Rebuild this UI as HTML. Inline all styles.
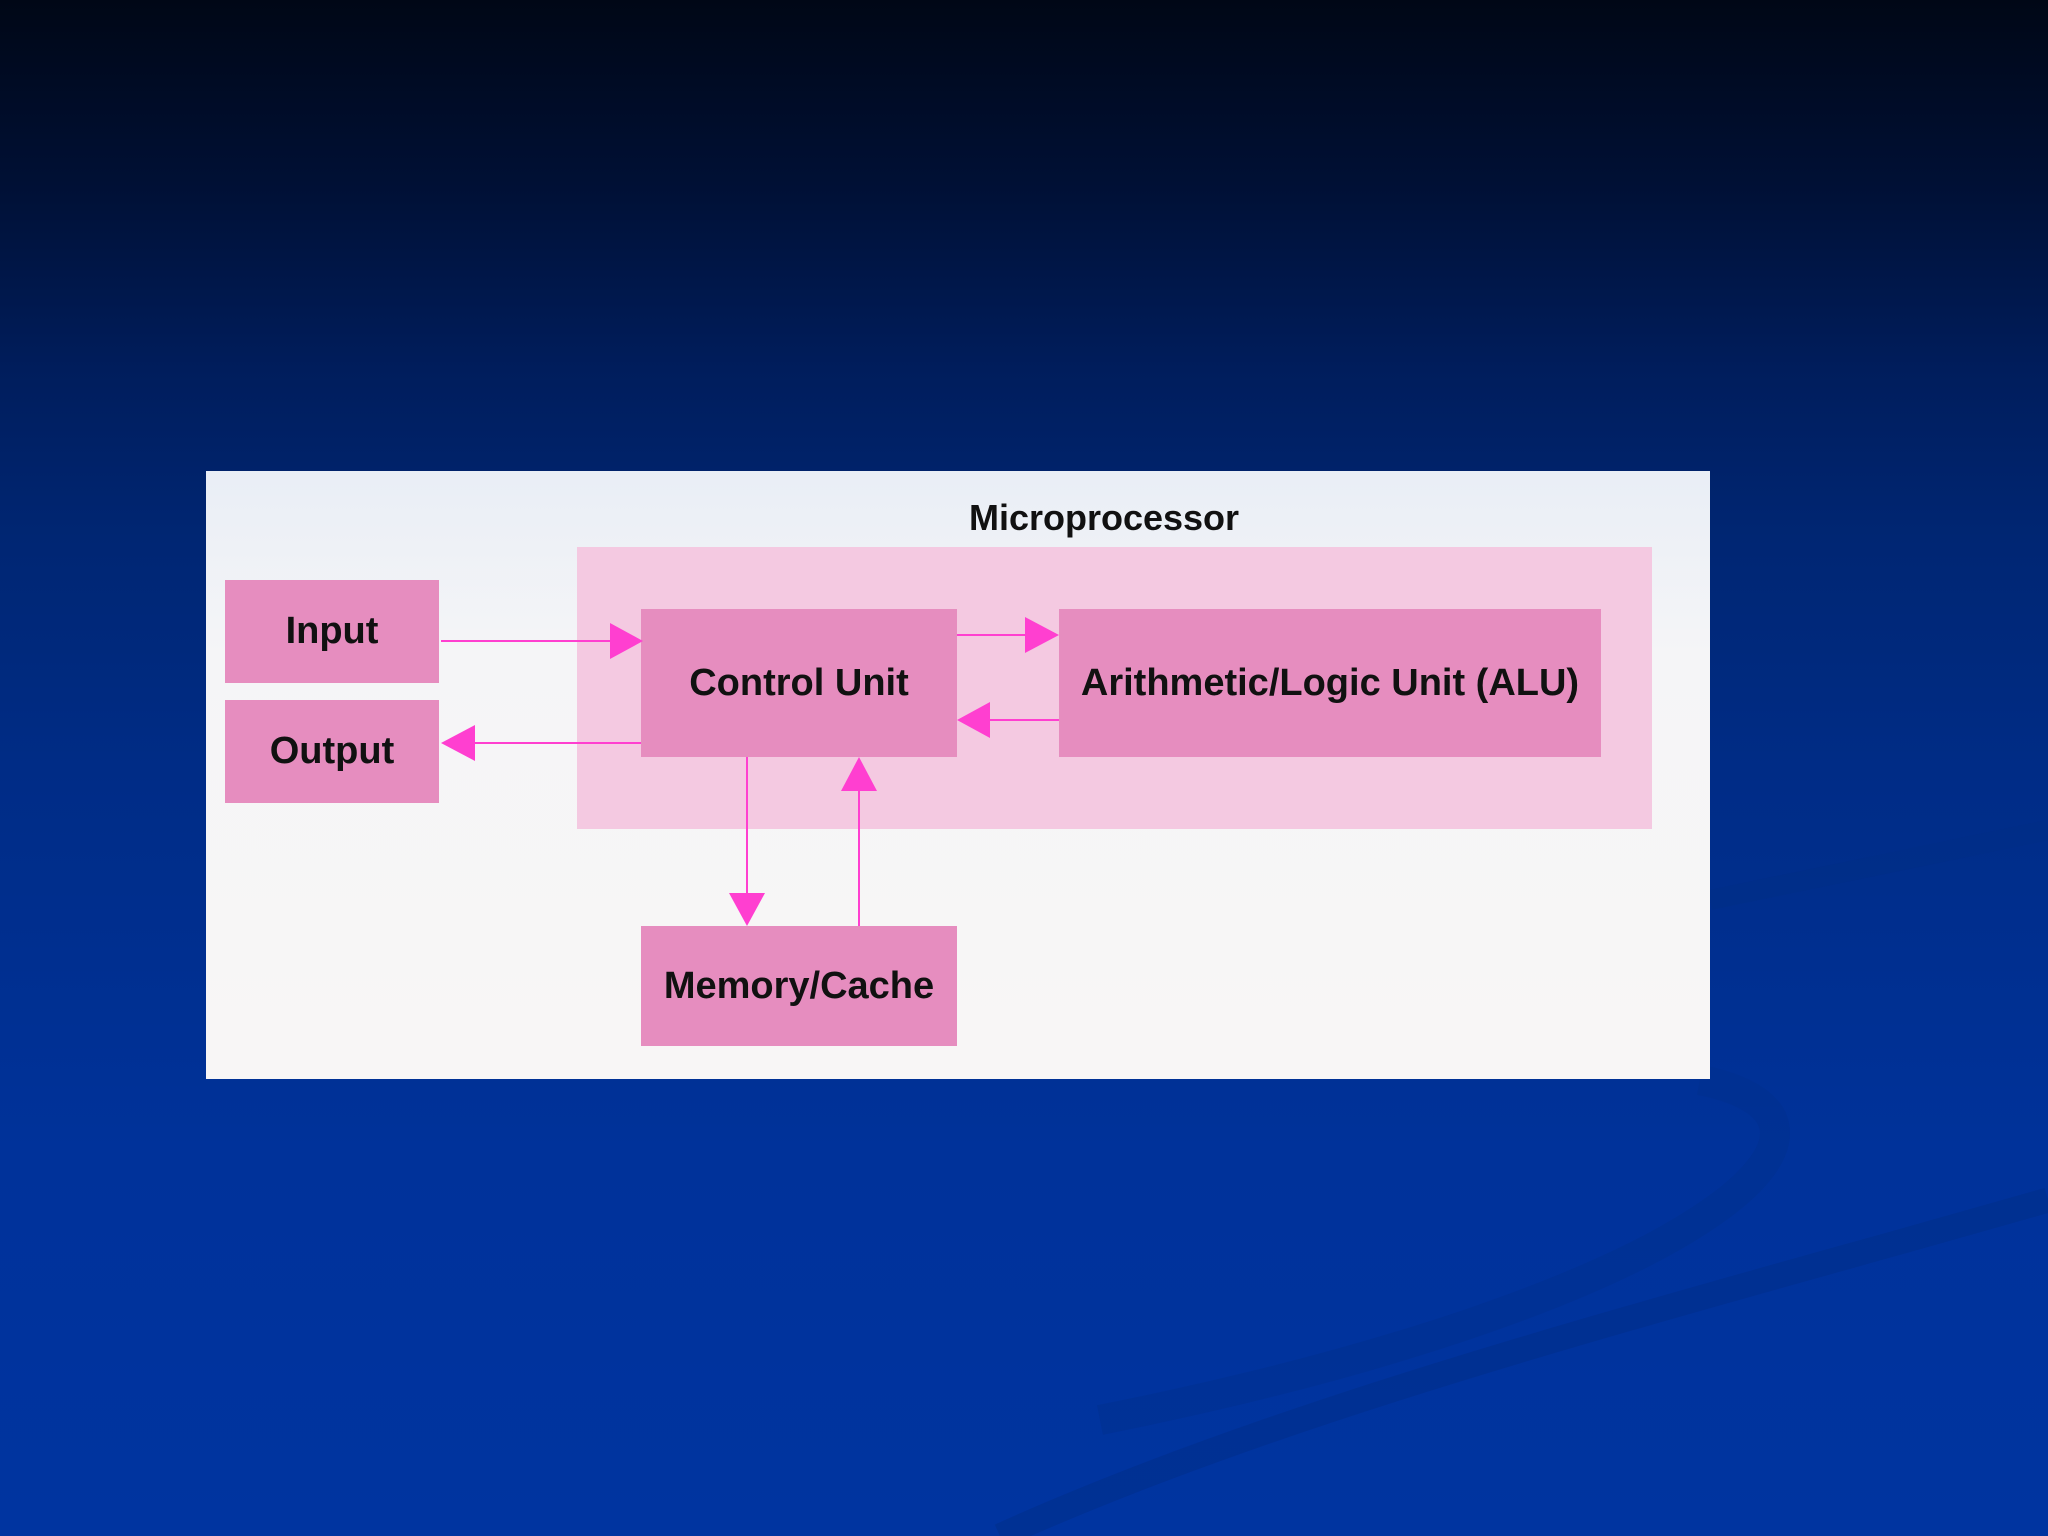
<!DOCTYPE html>
<html><head><meta charset="utf-8"><style>
html,body{margin:0;padding:0;}
body{width:2048px;height:1536px;position:relative;overflow:hidden;
background:linear-gradient(180deg,#000716 0%,#001035 12%,#001d5c 24%,#002673 35%,#002c86 50%,#00329a 75%,#0034a0 100%);
font-family:"Liberation Sans",sans-serif;}
.b{position:absolute;background:#e68dbf;display:flex;align-items:center;justify-content:center;font-weight:bold;font-size:38px;color:#111;}
</style></head><body>
<svg width="2048" height="1536" style="position:absolute;left:0;top:0">
<path d="M1700 1080 C1900 1120 1700 1300 1100 1420" stroke="#00308e" stroke-width="30" fill="none" opacity="0.5"/>
<path d="M2048 1200 C1700 1300 1300 1400 1000 1536" stroke="#002e88" stroke-width="25" fill="none" opacity="0.5"/>
<path d="M1710 900 C1900 860 2000 840 2048 830" stroke="#002d86" stroke-width="20" fill="none" opacity="0.5"/>
</svg>
<div style="position:absolute;left:206px;top:471px;width:1504px;height:608px;background:linear-gradient(180deg,#e9eef6 0%,#f5f5f7 30%,#f8f6f6 100%)"></div>
<div style="position:absolute;left:577px;top:547px;width:1075px;height:282px;background:#f4c9e1"></div>
<div style="position:absolute;left:900px;top:497px;width:408px;text-align:center;font-weight:bold;font-size:36px;color:#111">Microprocessor</div>
<div class="b" style="left:225px;top:580px;width:214px;height:103px">Input</div>
<div class="b" style="left:225px;top:700px;width:214px;height:103px">Output</div>
<div class="b" style="left:641px;top:609px;width:316px;height:148px">Control Unit</div>
<div class="b" style="left:1059px;top:609px;width:542px;height:148px">Arithmetic/Logic Unit (ALU)</div>
<div class="b" style="left:641px;top:926px;width:316px;height:120px">Memory/Cache</div>
<svg width="2048" height="1536" style="position:absolute;left:0;top:0">
<g stroke="#ff3fd0" stroke-width="2" fill="#ff3fd0">
<line x1="441" y1="641" x2="610" y2="641"/><polygon points="610,623 643,641 610,659" stroke="none"/>
<line x1="641" y1="743" x2="475" y2="743"/><polygon points="475,725 441,743 475,761" stroke="none"/>
<line x1="957" y1="635" x2="1025" y2="635"/><polygon points="1025,617 1059,635 1025,653" stroke="none"/>
<line x1="1059" y1="720" x2="990" y2="720"/><polygon points="990,702 957,720 990,738" stroke="none"/>
<line x1="747" y1="757" x2="747" y2="893"/><polygon points="729,893 747,926 765,893" stroke="none"/>
<line x1="859" y1="926" x2="859" y2="791"/><polygon points="841,791 859,757 877,791" stroke="none"/>
</g></svg>
</body></html>
